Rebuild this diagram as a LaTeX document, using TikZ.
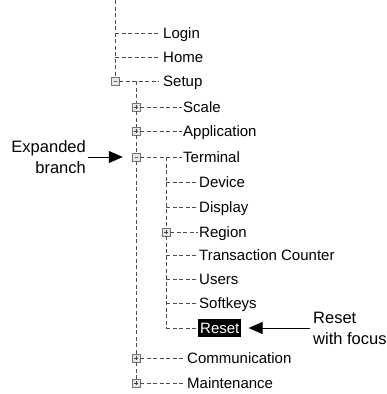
\documentclass[tikz,border=0pt]{standalone}
\usepackage{fontspec}
\setmainfont{Liberation Sans}
\usetikzlibrary{arrows.meta}

\tikzset{
  tree/.style={draw=black!70, dash pattern=on 4pt off 2.5pt, line width=0.6pt},
  item/.style={anchor=west, inner xsep=1pt, inner ysep=0pt, text height=10.5pt, text depth=0pt, font=\fontsize{15}{16}\selectfont},
  gapitem/.style={item, inner xsep=4pt},
  focus/.style={item, fill=black, text=white, inner xsep=2pt, inner ysep=4pt},
  tbox/.style={draw=black!55, fill=black!10, minimum size=8pt, inner sep=0pt, line width=0.5pt},
  plusbox/.style={tbox, path picture={
      \draw[black!75, line width=0.6pt] ([xshift=1.7pt]path picture bounding box.west) -- ([xshift=-1.7pt]path picture bounding box.east);
      \draw[black!75, line width=0.6pt] ([yshift=-1.7pt]path picture bounding box.north) -- ([yshift=1.7pt]path picture bounding box.south);}},
  minusbox/.style={tbox, path picture={
      \draw[black!60, line width=0.6pt] ([xshift=2.5pt]path picture bounding box.west) -- ([xshift=-2.5pt]path picture bounding box.east);}},
  note/.style={font=\fontsize{16.5}{21}\selectfont, inner sep=0pt}
}

\begin{document}
\begin{tikzpicture}[x=1pt,y=-1pt,>={Triangle[length=14pt,width=12pt]}]
  \useasboundingbox (0,0) rectangle (386,394);

  % top level
  \coordinate (top) at (115,0);
  \coordinate (j1) at (115,33);
  \coordinate (j2) at (115,57);
  \node[minusbox] (bsetup) at (115,81) {};
  \node[gapitem] (login) at (159,33) {Login};
  \node[gapitem] (home) at (159,57) {Home};
  \node[gapitem] (setup) at (159,81) {Setup};

  \draw[tree] (top) -- (bsetup);
  \draw[tree] (j1) -- (login.west);
  \draw[tree] (j2) -- (home.west);
  \draw[tree] (bsetup) -- (setup.west);

  % setup branch
  \coordinate (k0) at (136,81);
  \node[plusbox] (bscale) at (136,107) {};
  \node[plusbox] (bappl) at (136,131) {};
  \node[minusbox] (bterm) at (136,157) {};
  \node[plusbox] (bcomm) at (136,358) {};
  \node[plusbox] (bmaint) at (136,383) {};
  \node[item] (scale) at (182,107) {Scale};
  \node[item] (appl) at (182,131) {Application};
  \node[item] (term) at (182,157) {Terminal};
  \node[gapitem] (comm) at (183,358) {Communication};
  \node[gapitem] (maint) at (183,383) {Maintenance};

  \draw[tree] (k0) -- (bscale);
  \draw[tree] (bscale) -- (bappl);
  \draw[tree] (bappl) -- (bterm);
  \draw[tree] (bterm) -- (bcomm);
  \draw[tree] (bcomm) -- (bmaint);
  \draw[tree] (bscale) -- (scale.west);
  \draw[tree] (bappl) -- (appl.west);
  \draw[tree] (bterm) -- (term.west);
  \draw[tree] (bcomm) -- (comm.west);
  \draw[tree] (bmaint) -- (maint.west);

  % terminal branch
  \coordinate (m0) at (166,157);
  \coordinate (m1) at (166,182);
  \coordinate (m2) at (166,207);
  \node[plusbox] (bregion) at (166,232) {};
  \coordinate (m4) at (166,255);
  \coordinate (m5) at (166,279);
  \coordinate (m6) at (166,303);
  \coordinate (m7) at (166,328);
  \node[item] (device) at (198,182) {Device};
  \node[item] (display) at (198,207) {Display};
  \node[item] (region) at (198,232) {Region};
  \node[item] (trans) at (198,255) {Transaction Counter};
  \node[item] (users) at (198,279) {Users};
  \node[item] (softkeys) at (198,303) {Softkeys};
  \node[focus] (reset) at (198,328) {Reset};

  \draw[tree] (m0) -- (bregion);
  \draw[tree] (bregion) -- (m7);
  \draw[tree] (m1) -- (device.west);
  \draw[tree] (m2) -- (display.west);
  \draw[tree] (bregion) -- (region.west);
  \draw[tree] (m4) -- (trans.west);
  \draw[tree] (m5) -- (users.west);
  \draw[tree] (m6) -- (softkeys.west);
  \draw[tree] (m7) -- (reset.west);

  % callouts
  \node[note, align=right, anchor=east] (expl) at (86,157) {Expanded\\branch};
  \node[note, align=left, anchor=west] (rnote) at (313,328) {Reset\\with focus};
  \draw[->, line width=0.8pt, shorten <=2pt, shorten >=9pt] (expl.east) -- (bterm.west);
  \draw[->, line width=0.8pt, shorten <=3pt, shorten >=7pt] (rnote.west) -- (reset.east);
\end{tikzpicture}
\end{document}
